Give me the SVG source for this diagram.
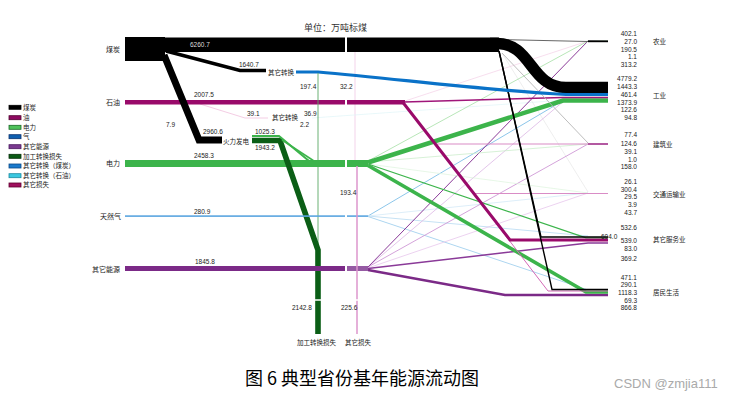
<svg xmlns="http://www.w3.org/2000/svg" width="733" height="400" viewBox="0 0 733 400">
<style>
text{font-family:"Liberation Sans","Noto Sans CJK SC",sans-serif;fill:#222}
.n{font-size:6.5px}
.l{font-size:7px;font-family:"Noto Sans CJK SC",sans-serif}
.s{font-size:6.5px;font-family:"Noto Sans CJK SC",sans-serif}
.r{text-anchor:end}
.f{fill:none;stroke-linejoin:miter}
.gap{stroke:#fff;stroke-width:1.3}
.lg rect{stroke-width:0.8}
</style>
<rect width="733" height="400" fill="#fff"/>
<text x="304" y="30.5" style="font-size:9px;font-family:'Noto Sans CJK SC',sans-serif;fill:#333">单位：万吨标煤</text>

<g id="legend" class="lg">
<rect x="9" y="105.3" width="12" height="4" fill="#000" stroke="#000"/><text x="23" y="109.6" class="s">煤炭</text>
<rect x="9" y="115.7" width="12" height="4" fill="#8e0a62" stroke="#50002f"/><text x="23" y="120" class="s">油</text>
<rect x="9" y="125.3" width="12" height="4" fill="#4ec25a" stroke="#1a6a26"/><text x="23" y="129.6" class="s">电力</text>
<rect x="9" y="134.7" width="12" height="4" fill="#1060b0" stroke="#0a3270"/><text x="23" y="139" class="s">气</text>
<rect x="9" y="144.7" width="12" height="4" fill="#7a3a90" stroke="#4a1a60"/><text x="23" y="149" class="s">其它能源</text>
<rect x="9" y="154.3" width="12" height="4" fill="#0b5a16" stroke="#053008"/><text x="23" y="158.6" class="s">加工转换损失</text>
<rect x="9" y="164" width="12" height="4" fill="#1a7acc" stroke="#0a4a88"/><text x="23" y="168.3" class="s">其它转换（煤炭）</text>
<rect x="9" y="173.7" width="12" height="4" fill="#3cc8e0" stroke="#1a8aa0"/><text x="23" y="178" class="s">其它转换（石油）</text>
<rect x="9" y="183" width="12" height="4" fill="#a0105e" stroke="#600030"/><text x="23" y="187.3" class="s">其它损失</text>
</g>

<g id="connectors">
<!-- faint lines -->
<path class="f" d="M200,104 L245,118 L268,118" stroke="#f4cde4" stroke-width="1"/>
<path class="f" d="M355,40 L355,165" stroke="#f3d3ea" stroke-width="1"/>
<path class="f" d="M312,118 L565,100" stroke="#dff5f8" stroke-width="0.7"/>
<path class="f" d="M502,53 L588,192" stroke="#e2e2e2" stroke-width="0.6"/>
<path class="f" d="M405,101 L588,41" stroke="#f3d0e6" stroke-width="0.7"/>
<!-- gas fans -->
<path class="f" d="M368,216 L565,99.5" stroke="#8cc6ea" stroke-width="1"/>
<path class="f" d="M368,216 L588,193" stroke="#d4eaf8" stroke-width="0.8"/>
<path class="f" d="M368,216 L588,236" stroke="#c6e2f5" stroke-width="1"/>
<path class="f" d="M368,216.5 L588,290" stroke="#add6f0" stroke-width="1"/>
<!-- other energy fans -->
<path class="f" d="M368,267 L565,100" stroke="#dcb6e4" stroke-width="0.8"/>
<path class="f" d="M368,267 L588,144" stroke="#cf98d6" stroke-width="0.9"/>
<path class="f" d="M368,268 L588,193" stroke="#e7c6ec" stroke-width="0.8"/>
<path class="f" d="M368,267 L588,41 L608,41.5" stroke="#8a3a98" stroke-width="1"/>
<path class="f" d="M368,268.5 L588,243 L608,243" stroke="#8a3a98" stroke-width="1.5"/>
<path class="f" d="M368,270 L505,295 L608,295" stroke="#7b2a87" stroke-width="2.6"/>
<!-- electricity fans -->
<path class="f" d="M368,161 L588,41 L608,41" stroke="#a6e0a6" stroke-width="0.8"/>
<path class="f" d="M368,162 L588,144" stroke="#cdeecd" stroke-width="0.8"/>
<path class="f" d="M368,164 L588,193" stroke="#dcf3dc" stroke-width="0.7"/>
<path class="f" d="M368,164 L586,237.8 L608,237.8" stroke="#3cb44b" stroke-width="1.3"/>
<path class="f" d="M368,165.5 L586,292 L608,292" stroke="#3cb44b" stroke-width="3.6"/>
<path class="f" d="M368,162.5 L563,100.5 L608,100.5" stroke="#3cb44b" stroke-width="4.5"/>
<!-- oil -->
<rect x="125" y="100" width="220" height="4.5" fill="#990a6a"/>
<rect x="347" y="100" width="58" height="4.5" fill="#990a6a"/>
<path class="f" d="M404,102 L563,97.5 L608,97.5" stroke="#a0167a" stroke-width="1.5"/>
<path class="f" d="M437,144 L588,144" stroke="#d98cc6" stroke-width="1.1"/>
<path class="f" d="M588,144 L608,144" stroke="#a0308a" stroke-width="1.6"/>
<path class="f" d="M475,193.5 L608,193.5" stroke="#d98cc6" stroke-width="1.2"/>
<path class="f" d="M404,103 L548,291 L608,291" stroke="#d36ab6" stroke-width="1"/>
<path class="f" d="M403,102.5 L510,240 L608,240" stroke="#990a6a" stroke-width="3"/>
<!-- coal -->
<rect x="125" y="37.5" width="220" height="14.5" fill="#000"/>
<rect x="347" y="37.5" width="152" height="14.5" fill="#000"/>
<path class="f" d="M498,39.5 L588,41.5" stroke="#555" stroke-width="0.9"/>
<path class="f" d="M588,41.3 L608,41.3" stroke="#000" stroke-width="1.8"/>
<path class="f" d="M502,53 L588,143" stroke="#b5b5b5" stroke-width="0.9"/>
<path class="f" d="M499,51 L541,237 L608,237" stroke="#000" stroke-width="1.4"/>
<path class="f" d="M499,51 L552,289.5 L608,289.5" stroke="#000" stroke-width="1.4"/>
<path class="f" d="M490,43.5 L497,43.5 C532,43.5 530,87.5 566,87.5 L608,87.5" stroke="#000" stroke-width="11.5"/>
<polyline class="f" points="164,55 199,140 222,140" stroke="#000" stroke-width="7"/>
<polyline class="f" points="166,51 240,70.5 266,70.5" stroke="#000" stroke-width="3.5"/>
<!-- other conversion (coal) -->
<path class="f" d="M296,72 L318,72 C400,79 480,90 566,94.5 L608,94.5" stroke="#0a72c8" stroke-width="3.2"/>
<path class="f" d="M318,73 L318,250" stroke="#5aa864" stroke-width="0.9"/>
<!-- electricity band -->
<rect x="125" y="160" width="220" height="7" fill="#3cb44b"/>
<rect x="347" y="160" width="21" height="7" fill="#3cb44b"/>
<!-- thermal power -->
<polyline class="f" points="252,140.5 280,140.5 318,250 318,334" stroke="#0b5e16" stroke-width="5.6"/>
<polyline class="f" points="252,136 279,136 309,161" stroke="#3cb44b" stroke-width="2"/>
<path class="f" d="M282,140 L314,161" stroke="#3cb44b" stroke-width="1.5"/>
<!-- gas band -->
<rect x="125" y="215.3" width="220" height="1.6" fill="#5aa6e0"/>
<rect x="347" y="215.3" width="21" height="1.6" fill="#5aa6e0"/>
<!-- other energy band -->
<rect x="125" y="266" width="220" height="5" fill="#7b2a87"/>
<rect x="347" y="266" width="21" height="5" fill="#955aa3"/>
<!-- other loss -->
<path class="f" d="M357,166 L357,334" stroke="#dc96cc" stroke-width="1.5"/>
<path class="gap" d="M313,300 L323,300 M354,300 L360,300"/>
</g>

<g id="n-coal"><rect x="125" y="37" width="40" height="24" fill="#000"/><text x="120" y="51.5" class="l r">煤炭</text></g>
<g id="n-oil"><text x="120" y="104.5" class="l r">石油</text></g>
<g id="n-elec"><text x="120" y="166" class="l r">电力</text></g>
<g id="n-gas"><text x="121" y="218.5" class="l r">天然气</text></g>
<g id="n-other"><text x="120" y="271.5" class="l r">其它能源</text></g>
<g id="n-conv1"><text x="268" y="74.5" class="s">其它转换</text></g>
<g id="n-conv2"><text x="272" y="119.5" class="s">其它转换</text></g>
<g id="n-fire"><text x="223" y="143.5" class="s">火力发电</text></g>
<g id="n-loss1"><text x="297" y="345" class="s">加工转换损失</text></g>
<g id="n-loss2"><text x="345" y="345" class="s">其它损失</text></g>

<g id="flow-labels" class="n">
<text x="190" y="47.3" style="fill:#ddd">6260.7</text>
<text x="239" y="66.6">1640.7</text>
<text x="194" y="97.3">2007.5</text>
<text x="247" y="116.3">39.1</text>
<text x="304" y="116.3">36.9</text>
<text x="300" y="127.3">2.2</text>
<text x="166" y="127.3">7.9</text>
<text x="300" y="89.3">197.4</text>
<text x="340" y="89.3">32.2</text>
<text x="203" y="134.3">2960.6</text>
<text x="255" y="134.3">1025.3</text>
<text x="255" y="150.3">1943.2</text>
<text x="194" y="158.3">2458.3</text>
<text x="340" y="195.3">193.4</text>
<text x="194" y="214.3">280.9</text>
<text x="195" y="264.3">1845.8</text>
<text x="292" y="310.3">2142.8</text>
<text x="341" y="310.3">225.6</text>
</g>

<g id="s-agri"><text x="653" y="44.2" class="s">农业</text>
<g class="n r"><text x="637" y="36.3">402.1</text><text x="637" y="44">27.0</text><text x="637" y="51.6">190.5</text><text x="637" y="59.3">1.1</text><text x="637" y="66.6">313.2</text></g></g>
<g id="s-ind"><text x="653" y="97.5" class="s">工业</text>
<g class="n r"><text x="637" y="81.3">4779.2</text><text x="637" y="89">1443.3</text><text x="637" y="97">461.4</text><text x="637" y="104.6">1373.9</text><text x="637" y="112.3">122.6</text><text x="637" y="120">94.8</text></g></g>
<g id="s-build"><text x="653" y="146.5" class="s">建筑业</text>
<g class="n r"><text x="637" y="137.3">77.4</text><text x="637" y="146">124.6</text><text x="637" y="154">39.1</text><text x="637" y="161.6">1.0</text><text x="637" y="169">158.0</text></g></g>
<g id="s-trans"><text x="653" y="196.5" class="s">交通运输业</text>
<g class="n r"><text x="637" y="184">26.1</text><text x="637" y="191.6">300.4</text><text x="637" y="199.3">29.5</text><text x="637" y="207">3.9</text><text x="637" y="214.6">43.7</text></g></g>
<g id="s-serv"><text x="653" y="241.5" class="s">其它服务业</text>
<g class="n"><text x="637" y="230" class="r">532.6</text><text x="601" y="238.6">604.0</text><text x="637" y="243.3" class="r">539.0</text><text x="637" y="251" class="r">83.0</text><text x="637" y="260.6" class="r">369.2</text></g></g>
<g id="s-res"><text x="653" y="295" class="s">居民生活</text>
<g class="n r"><text x="637" y="279.6">471.1</text><text x="637" y="287.3">290.1</text><text x="637" y="295">1118.3</text><text x="637" y="302.6">69.3</text><text x="637" y="310.3">866.8</text></g></g>

<text x="245" y="385" style="font-size:18px;font-family:'Noto Sans CJK SC',sans-serif;fill:#000">图 6 典型省份基年能源流动图</text>
<text x="614" y="388" style="font-size:13px;fill:#aaa">CSDN @zmjia111</text>
</svg>
